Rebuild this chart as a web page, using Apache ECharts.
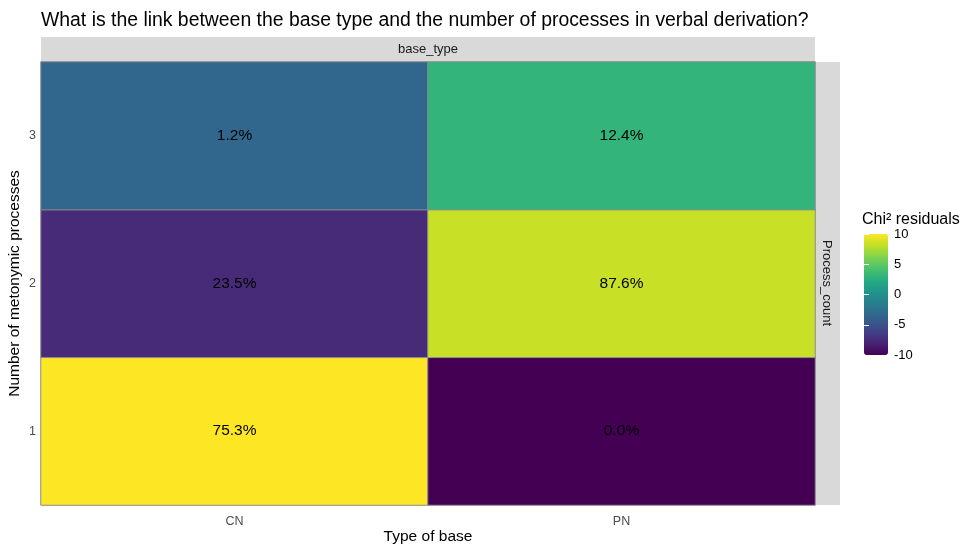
<!DOCTYPE html>
<html>
<head>
<meta charset="utf-8">
<script src="https://cdn.jsdelivr.net/npm/echarts@6/dist/echarts.min.js"></script>
<style>html,body{margin:0;padding:0;background:#fff}#c{width:960px;height:547px}</style>
</head>
<body>
<div id="c"></div>
<script>
var baseTypes = ['CN', 'PN'];
var processCounts = ['1', '2', '3'];
// residuals per [baseType][processCount]
var residCN = [10, -7.6, -3.4];
var residPN = [-10, 8.4, 3.0];
var pctCN = ['75.3%', '23.5%', '1.2%'];
var pctPN = ['0.0%', '87.6%', '12.4%'];
var legendTicks = [-10, -5, 0, 5, 10];
var viridis = ['#440154','#482576','#414487','#35608D','#2A788E','#21908C','#22A884','#43BF71','#7AD151','#BBDF27','#FDE725'];

var data = [];
for (var i = 0; i < processCounts.length; i++) {
  data.push({value: [0, i, residCN[i]], label: pctCN[i]});
  data.push({value: [1, i, residPN[i]], label: pctPN[i]});
}

var font = 'Liberation Sans, Arial, sans-serif';
var chart = echarts.init(document.getElementById('c'));
chart.setOption({
  animation: false,
  textStyle: {fontFamily: font},
  title: {
    text: 'What is the link between the base type and the number of processes in verbal derivation?',
    left: 36, top: 6,
    textStyle: {fontSize: 19.4, fontWeight: 'normal', color: '#000', fontFamily: font}
  },
  grid: [
    {left: 41, right: 145, top: 62, bottom: 42, outerBoundsMode: 'none', containLabel: false},
    {left: 864, top: 234, width: 24, height: 121, outerBoundsMode: 'none', containLabel: false}
  ],
  xAxis: [
    {type: 'category', data: baseTypes, gridIndex: 0,
     name: 'Type of base', nameLocation: 'middle', nameGap: 24, nameMoveOverlap: false,
     nameTextStyle: {fontSize: 15.5, color: '#000', verticalAlign: 'top'},
     axisLine: {show: false}, axisTick: {show: false}, splitLine: {show: false},
     axisLabel: {color: '#4D4D4D', fontSize: 12.5, margin: 10}},
    {type: 'value', gridIndex: 1, show: false, min: 0, max: 1}
  ],
  yAxis: [
    {type: 'category', data: processCounts, gridIndex: 0,
     name: 'Number of metonymic processes', nameLocation: 'middle', nameGap: 18, nameMoveOverlap: false,
     nameTextStyle: {fontSize: 15.5, color: '#000'},
     axisLine: {show: false}, axisTick: {show: false}, splitLine: {show: false},
     axisLabel: {color: '#4D4D4D', fontSize: 12.5, margin: 5}},
    {type: 'value', gridIndex: 1, min: -10, max: 10, interval: 5, position: 'right', z: 10,
     axisLine: {show: false}, splitLine: {show: false},
     axisTick: {show: true, inside: true, length: 5, lineStyle: {color: '#fff', width: 1}},
     axisLabel: {color: '#000', fontSize: 13, margin: 6}},
    {type: 'value', gridIndex: 1, min: -10, max: 10, interval: 5, position: 'left', z: 10,
     axisLine: {show: false}, splitLine: {show: false},
     axisTick: {show: true, inside: true, length: 5, lineStyle: {color: '#fff', width: 1}},
     axisLabel: {show: false}}
  ],
  visualMap: {
    type: 'continuous', seriesIndex: 0, min: -10, max: 10,
    left: 864, top: 234, padding: 0, itemWidth: 24, itemHeight: 121,
    calculable: false, realtime: false, text: null, showLabel: false,
    inRange: {color: viridis}
  },
  graphic: [
    {type: 'rect', left: 41, top: 37, shape: {width: 774, height: 25}, style: {fill: '#D9D9D9'}, z: -1},
    {type: 'rect', left: 815, top: 62, shape: {width: 25, height: 443}, style: {fill: '#D9D9D9'}, z: -1},
    {type: 'text', x: 428, y: 49, style: {text: 'base_type', fill: '#1A1A1A', font: '13px ' + font, align: 'center', verticalAlign: 'middle'}},
    {type: 'text', x: 827, y: 283, rotation: -Math.PI / 2, style: {text: 'Process_count', fill: '#1A1A1A', font: '13px ' + font, align: 'center', verticalAlign: 'middle'}},
    {type: 'text', x: 862, y: 220, style: {text: 'Chi\u00B2 residuals', fill: '#000', font: '16px ' + font, verticalAlign: 'middle'}}
  ],
  series: [
    {type: 'heatmap', xAxisIndex: 0, yAxisIndex: 0, data: data,
     itemStyle: {borderColor: '#8C8C8C', borderWidth: 1},
     label: {show: true, color: '#000', fontSize: 15.5, fontFamily: font,
       formatter: function (p) { return p.data.label; }},
     emphasis: {disabled: true}},
    {type: 'scatter', xAxisIndex: 1, yAxisIndex: 1, data: []}
  ]
});
</script>
</body>
</html>
